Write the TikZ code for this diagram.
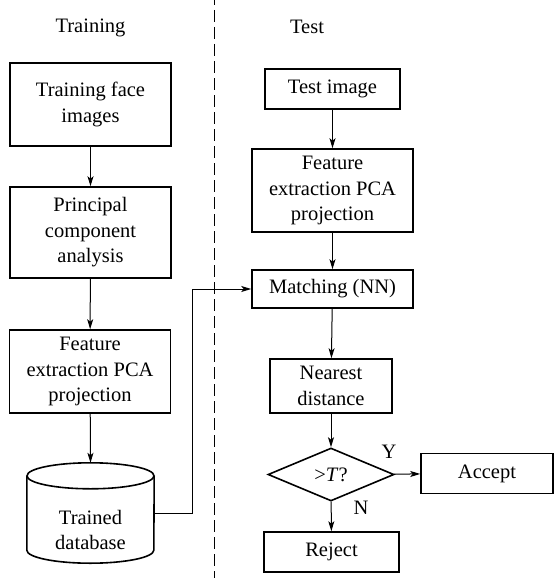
\documentclass[tikz,border=0pt]{standalone}
\usepackage{fontspec}
\setmainfont{Liberation Serif}
\usetikzlibrary{shapes.geometric,arrows.meta}
\begin{document}
\begin{tikzpicture}[x=1pt,y=-1pt,
  font=\fontsize{20.5}{25.5}\selectfont,
  stepbox/.style={draw,line width=1.6pt,align=center,inner sep=0pt},
  arr/.style={line width=1pt,-{Stealth[length=10pt,width=6pt,inset=2.5pt]}},
  link/.style={line width=1pt}]
\useasboundingbox (0,0) rectangle (554,578);

% column headings and separator
\node (htrain) at (90.5,28) {Training};
\node (htest) at (307,27) {Test};
\coordinate (septop) at (214,0);
\coordinate (sepbot) at (214,578);
\draw[line width=0.9pt,dash pattern=on 12pt off 5pt,dash phase=7pt] (septop) -- (sepbot);

% training column
\node[stepbox,minimum width=161pt,minimum height=83pt] (tf) at (90.5,104.5) {Training face\\images};
\node[stepbox,minimum width=161pt,minimum height=91pt] (pca) at (90.5,232.5) {Principal\\component\\analysis};
\node[stepbox,minimum width=161pt,minimum height=83pt] (fe1) at (90,371.5) {Feature\\extraction PCA\\projection};

% database cylinder
\node[minimum width=127pt,minimum height=100pt,inner sep=0pt] (db) at (90.5,513) {};
\draw[line width=1.6pt] ([yshift=-13pt]db.north) ellipse [x radius=63.5pt, y radius=13pt];
\draw[line width=1.6pt] ([yshift=-13pt]db.north west) -- ([yshift=13pt]db.south west)
  arc[start angle=180, end angle=360, x radius=63.5pt, y radius=13pt]
  -- ([yshift=-13pt]db.north east);
\node[align=center] (dbtext) at (90.5,530) {Trained\\database};

% test column
\node[stepbox,minimum width=135pt,minimum height=40pt] (ti) at (332.5,89) {Test image};
\node[stepbox,minimum width=161pt,minimum height=83pt] (fe2) at (332.5,190.5) {Feature\\extraction PCA\\projection};
\node[stepbox,minimum width=161pt,minimum height=38pt] (match) at (332.5,289) {Matching (NN)};
\node[stepbox,minimum width=122pt,minimum height=54pt] (near) at (331,386) {Nearest\\distance};
\node[draw,diamond,line width=1.6pt,minimum width=126pt,minimum height=53pt,inner sep=0pt] (dec) at (331,474.5) {>\textit{T}?};
\node[stepbox,minimum width=132pt,minimum height=40pt] (acc) at (487,473.5) {Accept};
\node[stepbox,minimum width=135pt,minimum height=40pt] (rej) at (331.5,552) {Reject};
\node (ylab) at (389,452) {Y};
\node (nlab) at (361,508) {N};

% connectors
\draw[arr] (tf) -- (pca);
\draw[arr] (pca) -- (fe1);
\draw[arr] (fe1) -- (db.north);
\draw[arr] (ti) -- (fe2);
\draw[arr] (fe2) -- (match);
\draw[arr] (match) -- (near);
\draw[arr] (near) -- (dec);
\draw[arr] (dec) -- (acc);
\draw[arr] (dec) -- (rej);
\coordinate (bend) at (192,289);
\draw[arr] (db.east) -| (bend) -- (match.west);
\end{tikzpicture}
\end{document}
